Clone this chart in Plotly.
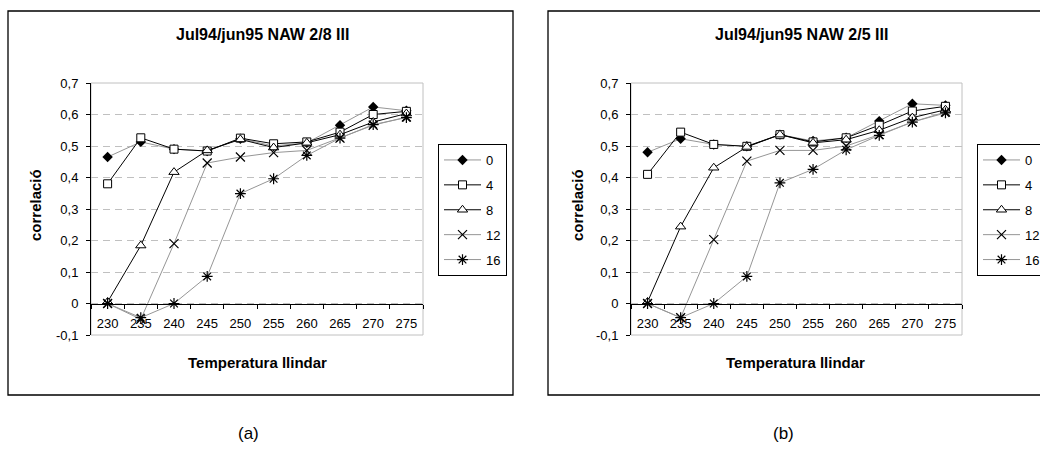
import plotly.graph_objects as go

# Threshold temperature categories (x axis) and lag series names
temps = ["230", "235", "240", "245", "250", "255", "260", "265", "270", "275"]
lags = ["0", "4", "8", "12", "16"]

# Panel (a): Jul94/jun95 NAW 2/8 III
a_lag0 = [0.465, 0.513, 0.490, 0.484, 0.523, 0.500, 0.510, 0.566, 0.624, 0.612]
a_lag4 = [0.380, 0.526, 0.490, 0.484, 0.525, 0.507, 0.513, 0.544, 0.600, 0.610]
a_lag8 = [0.005, 0.184, 0.417, 0.486, 0.521, 0.495, 0.510, 0.536, 0.576, 0.603]
a_lag12 = [0.000, -0.050, 0.190, 0.446, 0.465, 0.479, 0.486, 0.525, 0.566, 0.592]
a_lag16 = [0.000, -0.045, 0.000, 0.086, 0.349, 0.396, 0.470, 0.525, 0.568, 0.590]

# Panel (b): Jul94/jun95 NAW 2/5 III
b_lag0 = [0.480, 0.523, 0.505, 0.499, 0.536, 0.516, 0.526, 0.579, 0.634, 0.629]
b_lag4 = [0.410, 0.544, 0.505, 0.499, 0.536, 0.513, 0.526, 0.566, 0.611, 0.626]
b_lag8 = [0.005, 0.244, 0.431, 0.497, 0.536, 0.510, 0.520, 0.550, 0.590, 0.615]
b_lag12 = [0.000, -0.045, 0.203, 0.452, 0.486, 0.486, 0.500, 0.536, 0.576, 0.608]
b_lag16 = [0.000, -0.045, 0.000, 0.086, 0.383, 0.426, 0.488, 0.534, 0.576, 0.605]

# Value axis ticks
ytick_vals = [-0.1, 0.0, 0.1, 0.2, 0.3, 0.4, 0.5, 0.6, 0.7]
ytick_text = ["-0,1", "0", "0,1", "0,2", "0,3", "0,4", "0,5", "0,6", "0,7"]

titles = ["Jul94/jun95 NAW 2/8 III", "Jul94/jun95 NAW 2/5 III"]
panel_labels = ["(a)", "(b)"]
x_title = "Temperatura llindar"
y_title = "correlació"

W, H = 1040, 457
FONT = "Liberation Sans, Arial, sans-serif"
GRAY = "#969696"

# Per-series styling (line colour, marker symbol, fill, size)
styles = [
    dict(line=GRAY, symbol="diamond", fill="black", size=8, lw=0),
    dict(line="black", symbol="square", fill="white", size=8, lw=1),
    dict(line="black", symbol="triangle-up", fill="white", size=9, lw=1),
    dict(line=GRAY, symbol="x-thin-open", fill="black", size=9, lw=1.2),
    dict(line=GRAY, symbol="asterisk-open", fill="black", size=9, lw=1.2),
]

panels = [
    dict(series=[a_lag0, a_lag4, a_lag8, a_lag12, a_lag16],
         px=(91, 423), box=(8, 513), legend_x=438, title_x=262, xt_x=257, yt_x=35, lab_x=248),
    dict(series=[b_lag0, b_lag4, b_lag8, b_lag12, b_lag16],
         px=(631, 962), box=(548, 1060), legend_x=977, title_x=801, xt_x=795, yt_x=577, lab_x=783),
]

plot_top, plot_bot = 83, 335
yd = [1 - plot_bot / H, 1 - plot_top / H]
yrange = [-0.1, 0.7]
# x axis crosses the value axis at 0
x_pos = yd[0] + (yd[1] - yd[0]) * (0 - yrange[0]) / (yrange[1] - yrange[0])

fig = go.Figure()
layout = dict(
    width=W, height=H,
    margin=dict(l=0, r=0, t=0, b=0, autoexpand=False),
    paper_bgcolor="white", plot_bgcolor="white",
    font=dict(family=FONT, size=13, color="black"),
    showlegend=True,
    annotations=[], shapes=[],
)

for i, p in enumerate(panels):
    n = "" if i == 0 else str(i + 1)
    xa, ya = "x" + n, "y" + n
    leg = "legend" if i == 0 else "legend2"
    for k, (name, vals) in enumerate(zip(lags, p["series"])):
        st = styles[k]
        fig.add_trace(go.Scatter(
            x=temps, y=vals, name=name, mode="lines+markers",
            xaxis=xa, yaxis=ya, legend=leg, legendgroup=f"{i}-{name}",
            line=dict(color=st["line"], width=1),
            marker=dict(symbol=st["symbol"], size=st["size"], color=st["fill"],
                        line=dict(color="black", width=st["lw"])),
            hoverinfo="skip",
        ))
    xd = [p["px"][0] / W, p["px"][1] / W]
    layout["xaxis" + n] = dict(
        domain=xd, anchor="free", position=x_pos, type="category",
        categoryorder="array", categoryarray=temps, range=[-0.5, 9.5],
        showline=True, linecolor="black", linewidth=1,
        ticks="outside", ticklen=4, tickcolor="black", tickson="boundaries",
        ticklabelstandoff=8, showgrid=False, zeroline=False,
        tickfont=dict(size=13), fixedrange=True,
    )
    layout["yaxis" + n] = dict(
        domain=yd, anchor=xa, range=yrange,
        tickvals=ytick_vals, ticktext=ytick_text,
        showline=True, linecolor="black", linewidth=1,
        ticks="outside", ticklen=4, tickcolor="black", ticklabelstandoff=5,
        showgrid=True, gridcolor="#c0c0c0", griddash="7px,5px", gridwidth=1,
        zeroline=False, tickfont=dict(size=13), fixedrange=True,
    )
    layout[leg] = dict(
        x=p["legend_x"] / W, y=1 - 144 / H, xanchor="left", yanchor="top",
        bgcolor="white", bordercolor="black", borderwidth=1,
        tracegroupgap=5, traceorder="grouped", itemwidth=37,
        font=dict(size=13),
    )
    # plot-area frame
    layout["shapes"].append(dict(
        type="rect", xref="paper", yref="paper",
        x0=xd[0], x1=xd[1], y0=yd[0], y1=yd[1],
        line=dict(color="#c0c0c0", width=1), layer="below",
    ))
    # chart frame
    layout["shapes"].append(dict(
        type="rect", xref="paper", yref="paper",
        x0=p["box"][0] / W, x1=p["box"][1] / W, y0=1 - 395 / H, y1=1 - 11 / H,
        line=dict(color="black", width=1.3), layer="below",
    ))
    common = dict(xref="paper", yref="paper", showarrow=False,
                  xanchor="center", yanchor="middle")
    layout["annotations"] += [
        dict(text=f"<b>{titles[i]}</b>", x=p["title_x"] / W, y=1 - 35 / H,
             font=dict(size=16), **common),
        dict(text=f"<b>{x_title}</b>", x=p["xt_x"] / W, y=1 - 362 / H,
             font=dict(size=15), **common),
        dict(text=f"<b>{y_title}</b>", x=p["yt_x"] / W, y=1 - 205 / H, textangle=-90,
             font=dict(size=15), **common),
        dict(text=panel_labels[i], x=p["lab_x"] / W, y=1 - 433 / H,
             font=dict(size=17), **common),
    ]

fig.update_layout(**layout)
fig.write_html("out.html")
